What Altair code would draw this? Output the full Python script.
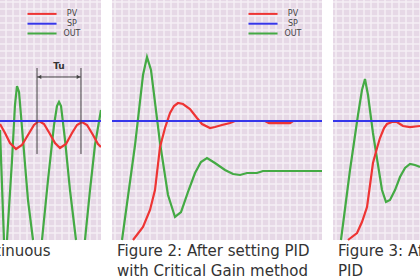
import altair as alt
import pandas as pd

# Grid geometry: one grid cell = 7 px, panels are 30 x ~34 cells
CELL = 7
PANEL_H = 240
CAPTION_H = 40
T_FULL = 30.0
V_TOP = PANEL_H / CELL
V_BOTTOM = -CAPTION_H / CELL
SP_LEVEL = 17.0

SERIES = ["PV", "SP", "OUT"]
SERIES_COLORS = ["#ee3434", "#3636ea", "#44aa44"]
LEGEND_V = [32.3, 30.9, 29.5]
LEGEND_LINE_T = (19.5, 23.65)
LEGEND_TEXT_T = 25.85

BG_COLOR = "#e6d8e6"
GRID_COLOR = "#f5eff5"
TEXT_COLOR = "#333333"

# ---- Figure 1: continuous oscillation at critical gain ----
f1_pv_t = [15.57, 16.29, 17.0, 17.86, 18.71, 19.57, 20.43, 21.14, 21.86, 22.71,
           23.43, 24.14, 25.0, 25.86, 26.57, 27.29, 28.0, 28.86, 29.57, 30.0]
f1_pv_v = [16.57, 15.29, 13.86, 13.0, 13.57, 15.0, 16.43, 17.0, 16.57, 15.14,
           13.86, 13.14, 13.71, 15.29, 16.43, 16.86, 16.43, 15.0, 13.71, 13.29]
f1_out_t = [15.57, 16.14,
            16.57, 17.29, 17.71, 18.0, 18.29, 18.86, 19.57, 20.29,
            21.57, 22.43, 23.29, 23.71, 24.0, 24.29, 24.86, 25.57, 26.43,
            27.71, 28.43, 29.14, 30.0]
f1_out_v = [15.71, 0,
            0, 11.43, 19.29, 22.0, 21.14, 14.29, 5.71, 0,
            0, 8.57, 16.43, 19.14, 19.71, 19.14, 14.29, 7.14, 0,
            0, 7.14, 13.57, 18.57]
f1_out_seg = [0, 0,
              1, 1, 1, 1, 1, 1, 1, 1,
              2, 2, 2, 2, 2, 2, 2, 2, 2,
              3, 3, 3, 3]
tu_start, tu_end = 20.86, 27.14
tu_low, tu_high, tu_arrow = 12.29, 24.57, 23.29
f1_caption = ["Figure 1: Continuous"]

# ---- Figure 2: after setting PID with Critical Gain method ----
f2_pv_t = [3.0, 4.43, 5.43, 6.14, 6.86, 7.57, 8.29, 8.86, 9.43, 10.14, 11.14, 12.14,
           12.86, 14.0, 14.71, 15.71, 16.86, 17.57, 21.86, 22.43, 25.43, 25.86, 30.0]
f2_pv_v = [0, 1.86, 4.29, 7.14, 13.29, 16.0, 18.14, 19.14, 19.57, 19.43, 18.71, 17.43,
           16.57, 16.0, 16.14, 16.43, 16.71, 17.0, 17.0, 16.71, 16.71, 17.0, 17.0]
f2_out_t = [1.43, 3.29, 4.43, 5.0, 5.57, 6.86, 8.0, 9.0, 9.86, 10.86, 11.86, 12.71,
            13.57, 14.71, 16.14, 17.29, 18.29, 19.29, 20.71, 21.57, 30.0]
f2_out_v = [0, 13.57, 23.57, 26.14, 24.29, 13.86, 6.43, 3.29, 4.0, 6.86, 9.57, 11.14,
            11.71, 11.0, 10.0, 9.43, 9.29, 9.57, 9.57, 9.86, 9.86]
f2_caption = ["Figure 2: After setting PID", "with Critical Gain method"]

# ---- Figure 3: after further adjustment of PID ----
f3_pv_t = [2.14, 3.43, 4.14, 4.86, 5.29, 5.71, 6.29, 6.71, 7.29, 7.71, 8.43, 9.14,
           9.57, 10.0, 11.0, 12.43]
f3_pv_v = [0, 1.0, 2.57, 4.71, 7.86, 11.0, 13.14, 14.57, 16.0, 16.57, 16.86, 16.86,
           16.57, 16.29, 16.14, 16.29]
f3_out_t = [1.14, 2.43, 3.57, 4.14, 4.57, 5.0, 5.71, 6.43, 7.0, 7.57, 8.14, 8.86,
            9.57, 10.29, 11.0, 11.71, 12.43]
f3_out_v = [0, 10.0, 17.86, 21.43, 23.0, 20.71, 15.29, 10.71, 7.14, 5.43, 5.71, 7.14,
            9.0, 10.29, 10.86, 10.71, 10.43]
f3_caption = ["Figure 3: After fine tuning the", "PID"]


def curves_frame(pv_t, pv_v, out_t, out_v, out_seg=None):
    out_seg = out_seg if out_seg is not None else [0] * len(out_t)
    rows = []
    for i, (t, v, s) in enumerate(zip(out_t, out_v, out_seg)):
        rows.append({"t": t, "v": v, "series": "OUT", "seg": f"OUT{s}", "idx": i})
    for i, (t, v) in enumerate(zip(pv_t, pv_v)):
        rows.append({"t": t, "v": v, "series": "PV", "seg": "PV", "idx": i})
    for i, t in enumerate([0.0, T_FULL]):
        rows.append({"t": t, "v": SP_LEVEL, "series": "SP", "seg": "SP", "idx": i})
    return pd.DataFrame(rows)


def panel(t0, t1, width, curves, caption, extras=()):
    xs = alt.Scale(domain=[t0, t1], nice=False, zero=False)
    ys = alt.Scale(domain=[V_BOTTOM, V_TOP], nice=False, zero=False)
    X = lambda f: alt.X(f, type="quantitative", scale=xs, axis=None)
    Y = lambda f: alt.Y(f, type="quantitative", scale=ys, axis=None)
    color = alt.Color("series:N", scale=alt.Scale(domain=SERIES, range=SERIES_COLORS), legend=None)

    bg = alt.Chart(pd.DataFrame({"t": [0.0], "t2": [T_FULL], "v": [0.0], "v2": [V_TOP]})).mark_rect(
        color=BG_COLOR, clip=True
    ).encode(x=X("t"), x2="t2", y=Y("v"), y2="v2")

    vgrid = pd.DataFrame({"t": [k + 3 / CELL for k in range(30)]})
    vgrid["v"], vgrid["v2"] = 0.0, V_TOP
    grid_v = alt.Chart(vgrid).mark_rule(color=GRID_COLOR, strokeWidth=1.5, clip=True).encode(
        x=X("t"), y=Y("v"), y2="v2")
    hgrid = pd.DataFrame({"v": [float(k) for k in range(1, 35)]})
    hgrid["t"], hgrid["t2"] = 0.0, T_FULL
    grid_h = alt.Chart(hgrid).mark_rule(color=GRID_COLOR, strokeWidth=1.5, clip=True).encode(
        x=X("t"), x2="t2", y=Y("v"))

    layers = [bg, grid_v, grid_h]
    for name in ["OUT", "PV", "SP"]:
        layers.append(
            alt.Chart(curves[curves.series == name]).mark_line(strokeWidth=2.2, clip=True).encode(
                x=X("t"), y=Y("v"), color=color, detail="seg:N", order="idx:Q")
        )
    layers += [e(X, Y) for e in extras]

    # The legend box sits near the top right of the full panel; only draw it where it is in view
    if t1 >= LEGEND_LINE_T[0]:
        leg = pd.DataFrame({"series": SERIES, "v": LEGEND_V, "t": LEGEND_LINE_T[0],
                            "t2": LEGEND_LINE_T[1], "tt": LEGEND_TEXT_T})
        layers.append(alt.Chart(leg).mark_rule(strokeWidth=2, clip=True).encode(
            x=X("t"), x2="t2", y=Y("v"), color=color))
        layers.append(alt.Chart(leg).mark_text(
            align="center", baseline="middle", font="DejaVu Sans", fontSize=8, color="#444444", clip=True
        ).encode(x=X("tt"), y=Y("v"), text="series:N"))

    cap = pd.DataFrame({"t": 5 / CELL, "v": [-16 / CELL, -36 / CELL][: len(caption)], "text": caption})
    layers.append(alt.Chart(cap).mark_text(
        align="left", baseline="alphabetic", font="DejaVu Sans", fontSize=15, color=TEXT_COLOR, clip=True
    ).encode(x=X("t"), y=Y("v"), text="text:N"))

    return alt.layer(*layers).properties(width=width, height=PANEL_H + CAPTION_H)


def tu_marker(X, Y):
    # Ultimate period Tu between two successive PV peaks
    bars = pd.DataFrame({"t": [tu_start, tu_end], "v": tu_low, "v2": tu_high})
    vlines = alt.Chart(bars).mark_rule(color="#444444", strokeWidth=1, clip=True).encode(
        x=X("t"), y=Y("v"), y2="v2")
    span = pd.DataFrame({"t": [tu_start], "t2": [tu_end], "v": [tu_arrow]})
    hline = alt.Chart(span).mark_rule(color="#444444", strokeWidth=1, clip=True).encode(
        x=X("t"), x2="t2", y=Y("v"))
    heads = pd.DataFrame({"t": [tu_start + 0.35, tu_end - 0.35], "v": tu_arrow,
                          "shape": ["triangle-left", "triangle-right"]})
    arrows = alt.Chart(heads).mark_point(filled=True, size=18, color="#444444", opacity=1, clip=True).encode(
        x=X("t"), y=Y("v"), shape=alt.Shape("shape:N", scale=None))
    label = alt.Chart(pd.DataFrame({"t": [(tu_start + tu_end) / 2], "v": [tu_high + 0.3], "text": ["Tu"]})).mark_text(
        font="DejaVu Sans", fontSize=9, fontWeight="bold", color="#333333", baseline="middle", clip=True
    ).encode(x=X("t"), y=Y("v"), text="text:N")
    return alt.layer(vlines, hline, arrows, label)


p1 = panel(T_FULL - 101 / CELL, T_FULL, 101,
           curves_frame(f1_pv_t, f1_pv_v, f1_out_t, f1_out_v, f1_out_seg), f1_caption, extras=[tu_marker])
p2 = panel(0.0, T_FULL, 210, curves_frame(f2_pv_t, f2_pv_v, f2_out_t, f2_out_v), f2_caption)
p3 = panel(0.0, 87 / CELL, 87, curves_frame(f3_pv_t, f3_pv_v, f3_out_t, f3_out_v), f3_caption)

chart = alt.hconcat(p1, p2, p3, spacing=11).properties(padding=0, background="white").configure_view(stroke=None)

chart.save("out.html", embed_options={"renderer": "svg", "actions": False})
